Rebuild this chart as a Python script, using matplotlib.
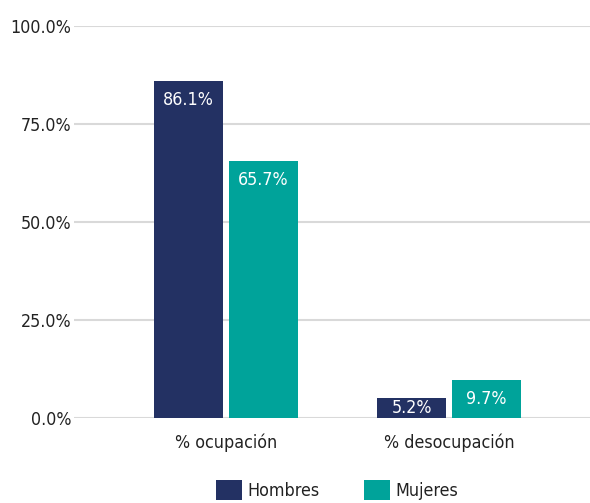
import numpy as np
import matplotlib
matplotlib.use("Agg")
import matplotlib.pyplot as plt
from matplotlib import font_manager
from matplotlib.patches import Patch

# --------------------------
# DATA
# --------------------------
categories = ["% ocupación", "% desocupación"]
series_names = ["Hombres", "Mujeres"]
hombres = [86.1, 5.2]
mujeres = [65.7, 9.7]
y_ticks = [0, 25, 50, 75, 100]

colors = ["#233163", "#00a39a"]
text_color = "#222222"

# look for a condensed / narrow sans face
cands = []
for f in font_manager.fontManager.ttflist:
    tag = (f.name + " " + f.fname).lower()
    if ("condensed" in tag or "narrow" in tag or f.stretch in ("condensed", "semi-condensed")) \
            and "bold" not in tag and "italic" not in tag and "oblique" not in tag and "serif" not in f.name.lower():
        cands.append(f)
if cands:
    cands.sort(key=lambda f: (f.weight != 400, f.fname))
    fp = font_manager.FontProperties(fname=cands[0].fname)
    base = 12.8
else:
    fp = font_manager.FontProperties(family="DejaVu Sans")
    base = 11.5


def props(size):
    p = fp.copy()
    p.set_size(size)
    return p


fig = plt.figure(figsize=(5.9, 5.03), dpi=100)
ax = fig.add_axes([0.1254, 0.169, 0.8746, 0.779])

x = np.arange(len(categories))
width = 0.309
offset = 0.168

bars_h = ax.bar(x - offset, hombres, width, color=colors[0], label=series_names[0], zorder=3)
bars_m = ax.bar(x + offset, mujeres, width, color=colors[1], label=series_names[1], zorder=3)

# axes height in points, to keep labels of short bars inside
ax_h_pt = 0.779 * 5.03 * 72
for bars, vals in [(bars_h, hombres), (bars_m, mujeres)]:
    for b, v in zip(bars, vals):
        dy = min(14, 0.5 * v / 100 * ax_h_pt)
        ax.annotate(f"{v:.1f}%", (b.get_x() + b.get_width() / 2, v),
                    xytext=(0, -dy), textcoords="offset points",
                    ha="center", va="center", color="white",
                    fontproperties=props(base), zorder=4)

ax.set_ylim(0, 100)
ax.set_xlim(-0.682, 1.632)
ax.set_yticks(y_ticks)
ax.set_yticklabels([f"{t:.1f}%" for t in y_ticks], fontproperties=props(base), color=text_color)
ax.set_xticks(x)
ax.set_xticklabels(categories, fontproperties=props(base), color=text_color)
ax.tick_params(axis="both", length=0)
ax.tick_params(axis="y", pad=2)
ax.tick_params(axis="x", pad=11)
ax.yaxis.grid(True, color="#d9d9d9", linewidth=1.5, zorder=0)
for s in ax.spines.values():
    s.set_visible(False)

handles = [Patch(facecolor=c) for c in colors]
fig.legend(handles, series_names, loc="center", bbox_to_anchor=(0.572, 0.026),
           ncol=2, frameon=False, prop=props(base), handlelength=1.42, handleheight=1.42,
           handletextpad=0.35, columnspacing=2.5, labelcolor=text_color)

fig.savefig("out.png", dpi=100)
